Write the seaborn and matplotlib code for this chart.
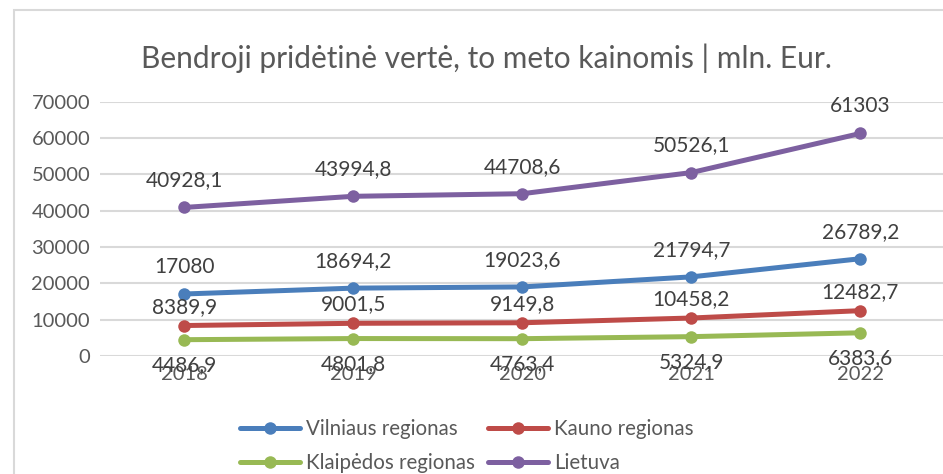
import matplotlib
matplotlib.use("Agg")
import matplotlib.pyplot as plt
from matplotlib.patches import Rectangle
import numpy as np
import pandas as pd
import seaborn as sns

metai = ["2018", "2019", "2020", "2021", "2022"]
vilniaus = [17080, 18694.2, 19023.6, 21794.7, 26789.2]
kauno = [8389.9, 9001.5, 9149.8, 10458.2, 12482.7]
klaipedos = [4486.9, 4801.8, 4763.4, 5324.9, 6383.6]
lietuva = [40928.1, 43994.8, 44708.6, 50526.1, 61303]

serijos = ["Vilniaus regionas", "Kauno regionas", "Klaipėdos regionas", "Lietuva"]
spalvos = {"Vilniaus regionas": "#4A7EBB", "Kauno regionas": "#BE4B48",
           "Klaipėdos regionas": "#98B954", "Lietuva": "#7D60A0"}

df = pd.DataFrame({"metai": metai * 4,
                   "reiksme": vilniaus + kauno + klaipedos + lietuva,
                   "serija": [s for s in serijos for _ in metai]})

sns.set_theme(style="white")
plt.rcParams['font.family'] = ['Lato', 'DejaVu Sans']

fig = plt.figure(figsize=(9.43, 4.74), dpi=100)
ax = fig.add_axes([0.106, 0.249, 0.894, 0.536])

# remelis aplink diagrama
fig.patches.append(Rectangle((0.0148, -0.05), 1.2, 0.029 + 1.0, transform=fig.transFigure,
                             fill=False, edgecolor="#D9D9D9", linewidth=1.5))

sns.lineplot(data=df, x="metai", y="reiksme", hue="serija", palette=spalvos,
             marker="o", markersize=9, markeredgewidth=0, linewidth=3.6,
             ax=ax, legend=False, zorder=3)

# duomenu zymes
poslinkis = {"Vilniaus regionas": 19.5, "Kauno regionas": 13.5,
             "Klaipėdos regionas": -18.5, "Lietuva": 19.5}
for s, vals in zip(serijos, [vilniaus, kauno, klaipedos, lietuva]):
    for i, v in enumerate(vals):
        txt = f"{v:g}".replace(".", ",")
        ax.annotate(txt, (i, v), xytext=(0, poslinkis[s]), textcoords="offset points",
                    ha="center", va="center", fontsize=15, color="#404040")

ax.set_xlim(-0.5, 4.49)
ax.set_ylim(0, 70000)
ax.set_yticks(np.arange(0, 70001, 10000))
ax.yaxis.grid(True, color="#D9D9D9", linewidth=1.5)
ax.set_axisbelow(True)
for sp in ax.spines.values():
    sp.set_visible(False)
ax.tick_params(axis="both", labelsize=14.5, colors="#595959", length=0)
ax.tick_params(axis="x", pad=7)
ax.tick_params(axis="y", pad=7)
ax.set_xlabel("")
ax.set_ylabel("")

fig.text(0.516, 0.878, "Bendroji pridėtinė vertė, to meto kainomis | mln. Eur.",
         ha="center", va="center", fontsize=21.5, color="#595959")

tvarka = ["Vilniaus regionas", "Klaipėdos regionas", "Kauno regionas", "Lietuva"]
handles = [plt.Line2D([], [], color=spalvos[s], marker="o", markersize=9,
                      markeredgewidth=0, linewidth=3.6, solid_capstyle="round") for s in tvarka]
leg = fig.legend(handles, tvarka, ncol=2, loc="center", bbox_to_anchor=(0.495, 0.059),
                 frameon=False, fontsize=14.8, handlelength=2.95, handletextpad=0.3,
                 columnspacing=0.6, labelspacing=0.65)
for t in leg.get_texts():
    t.set_color("#595959")

fig.savefig("out.png", dpi=100)
